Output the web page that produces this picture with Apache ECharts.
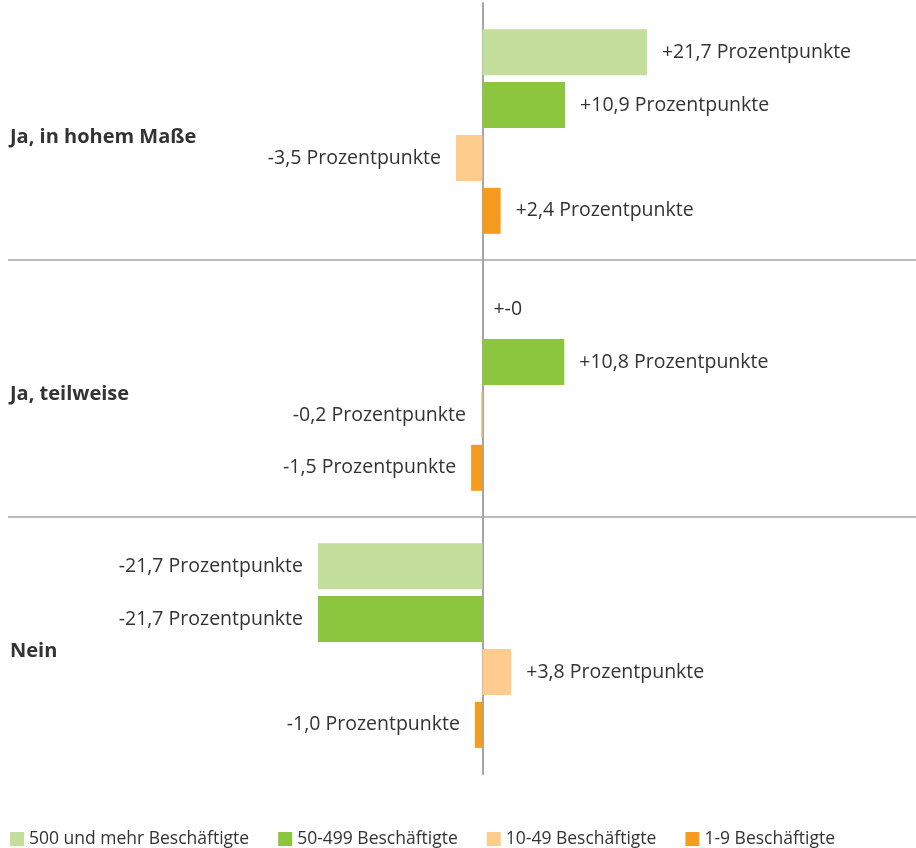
<!DOCTYPE html>
<html>
<head>
<meta charset="utf-8">
<script src="https://cdn.jsdelivr.net/npm/echarts@6/dist/echarts.min.js"></script>
<style>
    html, body { margin: 0; padding: 0; background: #fff; }
    #chart { width: 916px; height: 848px; }
</style>
</head>
<body>
<div id="chart"></div>
<script>
// Antworten und Veränderung in Prozentpunkten je Betriebsgröße
var categories = ['Ja, in hohem Maße', 'Ja, teilweise', 'Nein'];
var seriesNames = ['500 und mehr Beschäftigte', '50-499 Beschäftigte', '10-49 Beschäftigte', '1-9 Beschäftigte'];
var values500 = [21.7, 0, -21.7];
var values50 = [10.9, 10.8, -21.7];
var values10 = [-3.5, -0.2, 3.8];
var values1 = [2.4, -1.5, -1.0];

var colors = ['#c4df9c', '#8cc63e', '#fecc8c', '#f59b1e'];
var textColor = '#333333';
var fontFamily = '"Open Sans", "DejaVu Sans", sans-serif';

// Beschriftung: +21,7 Prozentpunkte / +-0
function fmt(v) {
    if (v === 0) return '+-0';
    var s = Math.abs(v).toFixed(1).replace('.', ',');
    return (v > 0 ? '+' : '-') + s + ' Prozentpunkte';
}

function makeData(arr) {
    return arr.map(function (v) {
        return {
            value: v,
            label: {
                position: v < 0 ? 'left' : 'right',
                distance: v === 0 ? 11 : 15
            }
        };
    });
}

var allValues = [values500, values50, values10, values1];

var chart = echarts.init(document.getElementById('chart'));

var series = allValues.map(function (arr, i) {
    return {
        name: seriesNames[i],
        type: 'bar',
        barWidth: 46,
        barGap: '15%',
        itemStyle: { color: colors[i] },
        label: {
            show: true,
            color: textColor,
            fontSize: 19.5,
            fontFamily: fontFamily,
            formatter: function (p) {
                return fmt(p.value);
            }
        },
        emphasis: { disabled: true },
        data: makeData(arr)
    };
});

var option = {
    animation: false,
    color: colors,
    grid: {
        left: 8,
        right: 0,
        top: 3,
        bottom: 74,
        containLabel: false
    },
    legend: {
        data: seriesNames,
        left: 10,
        bottom: 0,
        padding: 0,
        itemWidth: 14,
        itemHeight: 14,
        itemGap: 29,
        icon: 'rect',
        textStyle: {
            color: textColor,
            fontSize: 17.5,
            fontFamily: fontFamily
        }
    },
    xAxis: {
        type: 'value',
        min: -62.6,
        max: 57.2,
        show: false
    },
    yAxis: [{
        type: 'category',
        inverse: true,
        data: categories,
        axisLine: {
            show: true,
            onZero: true,
            lineStyle: { color: '#a6a6a6', width: 2 }
        },
        axisTick: { show: false },
        axisLabel: { show: false },
        splitLine: {
            show: true,
            showMinLine: false,
            showMaxLine: false,
            lineStyle: { color: '#a6a6a6', width: 1.5 }
        }
    }, {
        type: 'category',
        inverse: true,
        position: 'left',
        data: categories,
        axisLine: { show: false },
        axisTick: { show: false },
        splitLine: { show: false },
        axisLabel: {
            inside: true,
            margin: 2,
            color: textColor,
            fontSize: 20,
            fontWeight: 'bold',
            fontFamily: fontFamily,
            verticalAlign: 'top',
            lineHeight: 12
        }
    }],
    series: series
};

chart.setOption(option);
</script>
</body>
</html>
